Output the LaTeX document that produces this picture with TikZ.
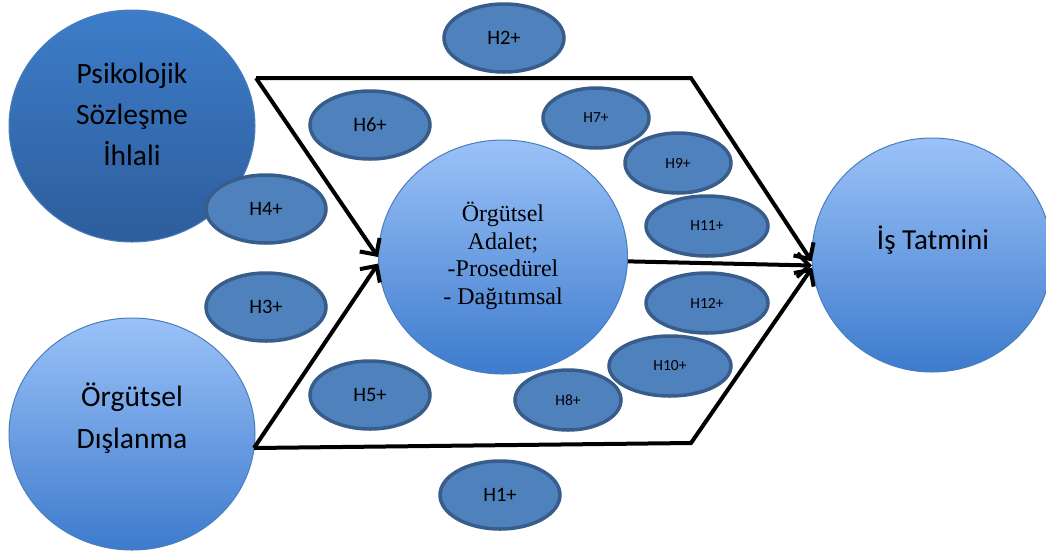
\documentclass[tikz,border=0pt]{standalone}
\usepackage{fontspec}
\setmainfont{Carlito}
\newfontfamily\serifadalet{Liberation Serif}
\usetikzlibrary{shapes.geometric,arrows.meta}

\definecolor{hypfill}{HTML}{4F81BD}
\definecolor{hypline}{HTML}{385D8A}
\definecolor{darktop}{HTML}{3D7DC9}
\definecolor{darkbot}{HTML}{2D5D9C}
\definecolor{lighttop}{HTML}{9BC2F8}
\definecolor{lightbot}{HTML}{3D7BCD}
\definecolor{rimline}{HTML}{4A7EBB}

\begin{document}
\begin{tikzpicture}[x=1pt,y=-1pt,
   construct/.style={ellipse,draw=rimline,line width=1pt,inner sep=0pt,
      minimum width=246pt,minimum height=232pt},
   darkconstruct/.style={construct,top color=darktop,bottom color=darkbot},
   lightconstruct/.style={construct,top color=lighttop,bottom color=lightbot},
   label text/.style={align=center,inner sep=0pt},
   hyp/.style={ellipse,fill=hypfill,draw=hypline,line width=3.5pt,inner sep=0pt,
      minimum width=120pt,minimum height=68pt,font=\fontsize{20.5}{24}\selectfont},
   smallhyp/.style={hyp,minimum width=106pt,minimum height=60pt,
      font=\fontsize{15.5}{18}\selectfont},
   path/.style={line width=4pt,line join=miter},
   pathto/.style={path,-{Straight Barb[length=12pt,width=24pt,line width=4pt]}}]
\useasboundingbox (0,0) rectangle (1046,555);

% constructs
\node[darkconstruct] (psi) at (132,126) {};
\node[lightconstruct] (dislanma) at (132,434) {};
\node[lightconstruct,minimum width=249pt,minimum height=234pt] (adalet) at (503,257) {};
\node[lightconstruct,minimum width=240pt,minimum height=234pt] (tatmin) at (932,255) {};

\node[label text,font=\fontsize{29.5}{41}\selectfont] (psitext) at (132,114)
   {Psikolojik\\S\"{o}zle\c{s}me\\\.{I}hlali};
\node[label text,font=\fontsize{29.5}{42}\selectfont] (dislanmatext) at (132,418)
   {\"{O}rg\"{u}tsel\\D\i\c{s}lanma};
\node[label text,font=\serifadalet\fontsize{24}{27.7}\selectfont] (adalettext) at (503,256)
   {\"{O}rg\"{u}tsel\\Adalet;\\-Prosed\"{u}rel\\- Da\u{g}\i t\i msal};
\node[label text,font=\fontsize{29}{34}\selectfont] (tatmintext) at (933,240)
   {\.{I}\c{s} Tatmini};

% path corners
\coordinate (topstart) at (256,78);
\coordinate (topcorner) at (691,78);
\coordinate (botstart) at (254,448);
\coordinate (botcorner) at (691,443);

% hypotheses
\node[hyp] (h2) at (504,38) {H2+};
\node[hyp] (h6) at (370,125) {H6+};
\node[hyp] (h4) at (266,209) {H4+};
\node[hyp] (h3) at (266,307) {H3+};
\node[hyp] (h5) at (370,395) {H5+};
\node[hyp] (h1) at (500,495) {H1+};
\node[smallhyp] (h7) at (596,118) {H7+};
\node[smallhyp] (h9) at (678,163) {H9+};
\node[smallhyp,minimum width=122pt] (h11) at (707,226) {H11+};
\node[smallhyp,minimum width=122pt] (h12) at (707,303) {H12+};
\node[smallhyp,minimum width=122pt] (h10) at (670,366) {H10+};
\node[smallhyp] (h8) at (568,400) {H8+};

% connectors
\draw[pathto] (topstart) -- (topcorner) -- (tatmin.183);
\draw[pathto] (topstart) -- (adalet.180);
\draw[pathto] (botstart) -- (botcorner) -- (tatmin.186);
\draw[pathto] (botstart) -- (adalet.183);
\draw[pathto] (adalet.-2) -- (tatmin.185);
\end{tikzpicture}
\end{document}
